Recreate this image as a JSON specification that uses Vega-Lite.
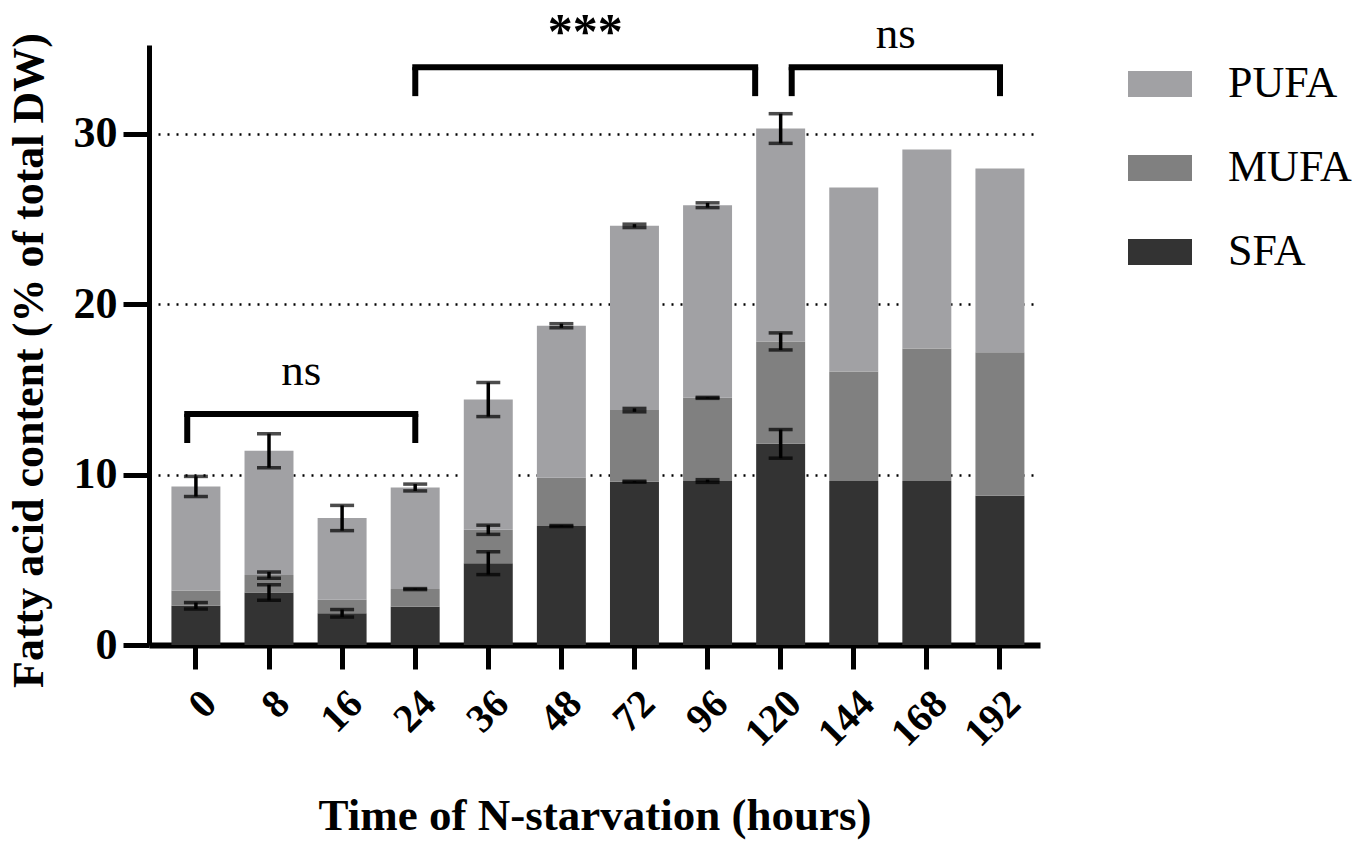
{
  "$schema": "https://vega.github.io/schema/vega-lite/v6.json",
  "description": "Fatty acid content over N-starvation time, stacked by SFA/MUFA/PUFA with SD error bars and significance brackets.",
  "width": 891,
  "height": 600,
  "autosize": {"type": "none"},
  "padding": {"left": 149, "top": 45, "right": 319, "bottom": 210},
  "config": {"view": {"stroke": null}, "font": "Liberation Serif"},
  "datasets": {
    "fa": [
      {"hour": 0, "type": "SFA", "value": 2.3, "err": 0.19},
      {"hour": 0, "type": "MUFA", "value": 0.9, "err": null},
      {"hour": 0, "type": "PUFA", "value": 6.1, "err": 0.59},
      {"hour": 8, "type": "SFA", "value": 3.08, "err": 0.46},
      {"hour": 8, "type": "MUFA", "value": 1.02, "err": 0.19},
      {"hour": 8, "type": "PUFA", "value": 7.3, "err": 1.0},
      {"hour": 16, "type": "SFA", "value": 1.86, "err": 0.22},
      {"hour": 16, "type": "MUFA", "value": 0.79, "err": null},
      {"hour": 16, "type": "PUFA", "value": 4.8, "err": 0.74},
      {"hour": 24, "type": "SFA", "value": 2.25, "err": null},
      {"hour": 24, "type": "MUFA", "value": 1.03, "err": 0.03},
      {"hour": 24, "type": "PUFA", "value": 5.96, "err": 0.2},
      {"hour": 36, "type": "SFA", "value": 4.8, "err": 0.67},
      {"hour": 36, "type": "MUFA", "value": 1.96, "err": 0.27},
      {"hour": 36, "type": "PUFA", "value": 7.64, "err": 1.0},
      {"hour": 48, "type": "SFA", "value": 6.98, "err": 0.03},
      {"hour": 48, "type": "MUFA", "value": 2.83, "err": null},
      {"hour": 48, "type": "PUFA", "value": 8.92, "err": 0.12},
      {"hour": 72, "type": "SFA", "value": 9.58, "err": 0.03},
      {"hour": 72, "type": "MUFA", "value": 4.2, "err": 0.1},
      {"hour": 72, "type": "PUFA", "value": 10.81, "err": 0.1},
      {"hour": 96, "type": "SFA", "value": 9.62, "err": 0.08},
      {"hour": 96, "type": "MUFA", "value": 4.88, "err": 0.03},
      {"hour": 96, "type": "PUFA", "value": 11.3, "err": 0.14},
      {"hour": 120, "type": "SFA", "value": 11.8, "err": 0.84},
      {"hour": 120, "type": "MUFA", "value": 6.01, "err": 0.5},
      {"hour": 120, "type": "PUFA", "value": 12.49, "err": 0.87},
      {"hour": 144, "type": "SFA", "value": 9.62, "err": null},
      {"hour": 144, "type": "MUFA", "value": 6.43, "err": null},
      {"hour": 144, "type": "PUFA", "value": 10.79, "err": null},
      {"hour": 168, "type": "SFA", "value": 9.62, "err": null},
      {"hour": 168, "type": "MUFA", "value": 7.77, "err": null},
      {"hour": 168, "type": "PUFA", "value": 11.68, "err": null},
      {"hour": 192, "type": "SFA", "value": 8.75, "err": null},
      {"hour": 192, "type": "MUFA", "value": 8.43, "err": null},
      {"hour": 192, "type": "PUFA", "value": 10.78, "err": null}
    ],
    "types": [
      {"type": "SFA", "rank": 1},
      {"type": "MUFA", "rank": 2},
      {"type": "PUFA", "rank": 3}
    ],
    "brackets": [
      {"label": "ns", "start": -0.12, "end": 3.0, "top": 13.55, "bottom": 11.85, "textY": 15.25},
      {"label": "***", "start": 3.0, "end": 7.65, "top": 33.9, "bottom": 32.2, "textY": 35.05},
      {"label": "ns", "start": 8.15, "end": 11.0, "top": 33.9, "bottom": 32.2, "textY": 35.05}
    ]
  },
  "layer": [
    {
      "data": {"name": "fa"},
      "transform": [
        {"lookup": "type", "from": {"data": {"name": "types"}, "key": "type", "fields": ["rank"]}}
      ],
      "layer": [
        {
          "mark": {"type": "bar"},
          "encoding": {
            "x": {
              "field": "hour",
              "type": "ordinal",
              "title": "Time of N-starvation (hours)",
              "scale": {"paddingInner": 0.33, "paddingOuter": 0.26, "align": 0.59},
              "axis": {
                "titleFont": "Liberation Serif",
                "titleFontSize": 45,
                "titleFontWeight": "bold",
                "titleColor": "black",
                "titlePadding": 40,
                "labelAngle": -45,
                "labelFont": "Liberation Serif",
                "labelFontSize": 40,
                "labelFontWeight": "bold",
                "labelColor": "black",
                "labelPadding": 14,
                "labelOverlap": false,
                "tickSize": 24,
                "tickWidth": 5,
                "tickColor": "black",
                "domainColor": "black",
                "domainWidth": 6
              }
            },
            "y": {
              "field": "value",
              "type": "quantitative",
              "stack": "zero",
              "title": "Fatty acid content (% of total DW)",
              "scale": {"domain": [0, 35.2], "nice": false},
              "axis": {
                "titleFont": "Liberation Serif",
                "titleFontSize": 44,
                "titleFontWeight": "bold",
                "titleColor": "black",
                "titlePadding": 22,
                "titleY": 315,
                "values": [0, 10, 20, 30],
                "grid": true,
                "gridDash": [2, 7],
                "gridColor": "black",
                "gridWidth": 2.5,
                "gridOpacity": 1,
                "labelFont": "Liberation Serif",
                "labelFontSize": 44,
                "labelFontWeight": "bold",
                "labelColor": "black",
                "labelPadding": 6,
                "tickSize": 26,
                "tickWidth": 5,
                "tickColor": "black",
                "domainColor": "black",
                "domainWidth": 5
              }
            },
            "color": {
              "field": "type",
              "type": "nominal",
              "scale": {"domain": ["PUFA", "MUFA", "SFA"], "range": ["#a1a1a4", "#808080", "#333333"]},
              "legend": {
                "orient": "none",
                "legendX": 979,
                "legendY": 7,
                "title": null,
                "padding": 0,
                "symbolType": "M-1,-0.406H1V0.406H-1Z",
                "symbolSize": 4096,
                "symbolStrokeWidth": 0,
                "symbolOpacity": 1,
                "labelFont": "Liberation Serif",
                "labelFontSize": 44,
                "labelColor": "black",
                "labelOffset": 36,
                "rowPadding": 30
              }
            },
            "order": {"field": "rank", "type": "quantitative"}
          }
        },
        {
          "transform": [
            {"stack": "value", "groupby": ["hour"], "sort": [{"field": "rank", "order": "ascending"}], "as": ["lo", "hi"]},
            {"filter": "isValid(datum.err)"}
          ],
          "mark": {"type": "errorbar", "ticks": true, "size": 24, "thickness": 3.5, "color": "black"},
          "encoding": {
            "x": {"field": "hour", "type": "ordinal", "title": "Time of N-starvation (hours)"},
            "y": {"field": "hi", "type": "quantitative", "title": "Fatty acid content (% of total DW)", "scale": {"domain": [0, 35.2], "nice": false}},
            "yError": {"field": "err"}
          }
        }
      ]
    },
    {
      "data": {"name": "brackets"},
      "layer": [
        {
          "mark": {"type": "rule", "strokeWidth": 6, "color": "black", "strokeCap": "square"},
          "encoding": {
            "x": {"field": "start", "type": "quantitative", "scale": {"domain": [-0.643, 11.547], "nice": false, "zero": false}, "axis": null},
            "x2": {"field": "end"},
            "y": {"field": "top", "type": "quantitative", "title": "Fatty acid content (% of total DW)", "scale": {"domain": [0, 35.2], "nice": false}}
          }
        },
        {
          "mark": {"type": "rule", "strokeWidth": 6, "color": "black"},
          "encoding": {
            "x": {"field": "start", "type": "quantitative", "axis": null},
            "y": {"field": "bottom", "type": "quantitative", "title": "Fatty acid content (% of total DW)"},
            "y2": {"field": "top"}
          }
        },
        {
          "mark": {"type": "rule", "strokeWidth": 6, "color": "black"},
          "encoding": {
            "x": {"field": "end", "type": "quantitative", "axis": null},
            "y": {"field": "bottom", "type": "quantitative", "title": "Fatty acid content (% of total DW)"},
            "y2": {"field": "top"}
          }
        },
        {
          "transform": [
            {"filter": "datum.label === '***'"},
            {"fold": ["start", "end"], "as": ["side", "pos"]}
          ],
          "mark": {"type": "text", "font": "Liberation Serif", "fontSize": 50, "fontWeight": "bold", "color": "black", "baseline": "alphabetic"},
          "encoding": {
            "x": {"aggregate": "mean", "field": "pos", "type": "quantitative", "axis": null},
            "y": {"field": "textY", "type": "quantitative", "title": "Fatty acid content (% of total DW)"},
            "text": {"field": "label"}
          }
        },
        {
          "transform": [
            {"filter": "datum.label !== '***'"},
            {"fold": ["start", "end"], "as": ["side", "pos"]}
          ],
          "mark": {"type": "text", "font": "Liberation Serif", "fontSize": 45, "color": "black", "baseline": "alphabetic"},
          "encoding": {
            "x": {"aggregate": "mean", "field": "pos", "type": "quantitative", "axis": null},
            "y": {"field": "textY", "type": "quantitative", "title": "Fatty acid content (% of total DW)"},
            "text": {"field": "label"}
          }
        }
      ]
    }
  ],
  "resolve": {"scale": {"x": "independent"}}
}
